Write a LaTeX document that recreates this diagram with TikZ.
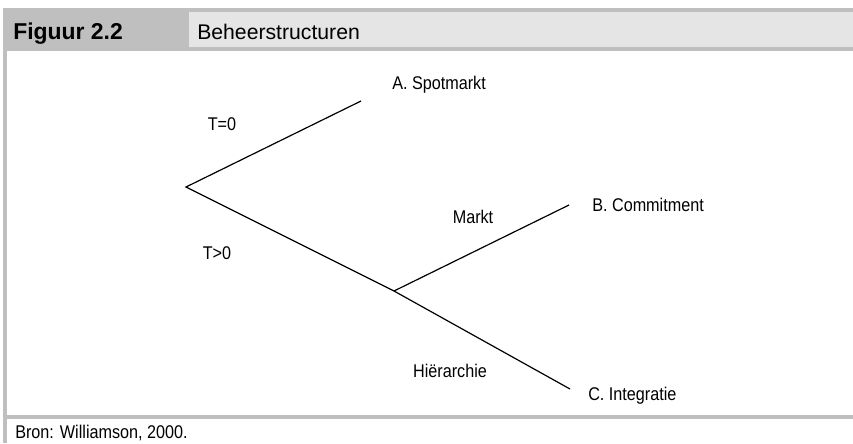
\documentclass[tikz,border=0pt]{standalone}
\usepackage{fontspec}
\setmainfont{Liberation Sans}
\newfontfamily\narrowsans[FakeStretch=0.88]{Liberation Sans}
\usetikzlibrary{positioning}

\definecolor{framegray}{gray}{0.75}
\definecolor{headgray}{gray}{0.898}

\tikzset{
  lbl/.style={font=\narrowsans\fontsize{13.8}{16}\selectfont, inner sep=0pt, anchor=base},
  endlbl/.style={lbl, anchor=base west},
  headtxt/.style={font=\fontsize{15.9}{18}\selectfont, inner sep=0pt, anchor=base west},
  branch/.style={line width=0.9pt, black}
}

\begin{document}
\begin{tikzpicture}[x=0.75pt,y=-0.75pt]
\useasboundingbox (0,0) rectangle (853,443);
\fill[white] (0,0) rectangle (853,443);
% frame and header
\fill[framegray] (3,8) rectangle (853,12);
\fill[framegray] (3,8) rectangle (189,51);
\fill[headgray] (189,12) rectangle (853,47);
\fill[framegray] (189,47) rectangle (853,51);
\fill[framegray] (3,8) rectangle (7,443);
\fill[framegray] (3,415) rectangle (853,419);
\node[headtxt,font=\fontsize{17.2}{19}\selectfont\bfseries] (fig) at (13,39) {Figuur 2.2};
\node[headtxt] (title) at (197,39) {Beheerstructuren};
\node[endlbl] (bron) at (15,438.5) {Bron: Williamson, 2000.};
% tree
\coordinate (root) at (186,187);
\coordinate (spot) at (361,101);
\coordinate (split) at (394,291);
\coordinate (comm) at (569,205);
\coordinate (integ) at (570,389);
\draw[branch] (spot) -- (root) -- (split) -- (integ);
\draw[branch] (split) -- (comm);
\node[endlbl] (A) at (392,89) {A. Spotmarkt};
\node[endlbl] (B) at (592,211) {B. Commitment};
\node[endlbl] (C) at (588,400) {C. Integratie};
\node[lbl] (t0) at (222,130) {T=0};
\node[lbl] (t1) at (217,259) {T>0};
\node[lbl] (markt) at (473,223) {Markt};
\node[lbl] (hier) at (450,377) {Hiërarchie};
\end{tikzpicture}
\end{document}
